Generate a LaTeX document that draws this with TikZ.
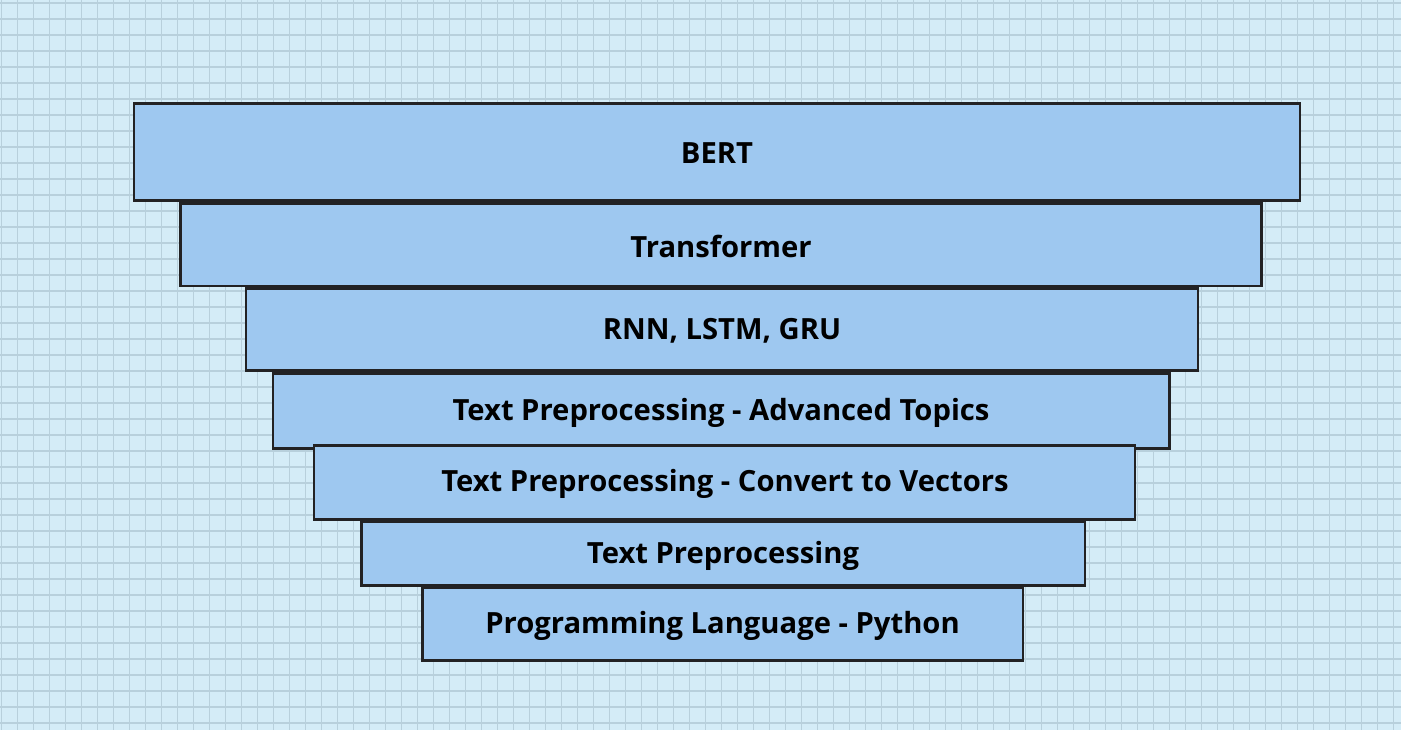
\documentclass[tikz,border=0pt]{standalone}
\usepackage{fontspec}
\setmainfont{Open Sans}
\definecolor{paper}{RGB}{212,236,247}
\definecolor{gridline}{RGB}{184,208,220}
\definecolor{layerfill}{RGB}{158,200,240}
\definecolor{layeredge}{RGB}{34,34,36}
\tikzset{
  layer/.style={draw=layeredge, line width=2.3pt, fill=layerfill},
  layertext/.style={font=\fontsize{29.2}{35}\selectfont\bfseries, text=black, inner sep=0pt, yshift=-1.5pt}
}
\begin{document}
\begin{tikzpicture}[x=1pt,y=-1pt]
  % page and background grid
  \useasboundingbox (0,0) rectangle (1401,730);
  \fill[paper] (0,0) rectangle (1401,730);
  \begin{scope}[gridline, line width=1.8pt]
    \foreach \i in {0,...,87} \draw (1.5+16*\i,0) -- (1.5+16*\i,730);
    \foreach \j in {0,...,45} \draw (0,2.7+16*\j) -- (1401,2.7+16*\j);
  \end{scope}
  % stacked layers, widest on top
  \draw[layer] (134,103.5) rectangle (1300,200.5);
  \node[layertext] (bert) at (717,152) {BERT};
  \draw[layer] (180.5,203.5) rectangle (1261.5,286);
  \node[layertext] (transformer) at (721,244.7) {Transformer};
  \draw[layer] (246,288.5) rectangle (1198,370.5);
  \node[layertext] (rnn) at (722,329.5) {RNN, LSTM, GRU};
  \draw[layer] (273,373.5) rectangle (1169.5,448.5);
  \node[layertext] (advanced) at (721,411) {Text Preprocessing - Advanced Topics};
  \draw[layer] (314,445.5) rectangle (1135,519.5);
  \node[layertext] (vectors) at (725,482.5) {Text Preprocessing - Convert to Vectors};
  \draw[layer] (361.5,522) rectangle (1085,585.5);
  \node[layertext] (preproc) at (723,554) {Text Preprocessing};
  \draw[layer] (422.5,588) rectangle (1023,660.5);
  \node[layertext] (python) at (722.5,624.5) {Programming Language - Python};
\end{tikzpicture}
\end{document}
